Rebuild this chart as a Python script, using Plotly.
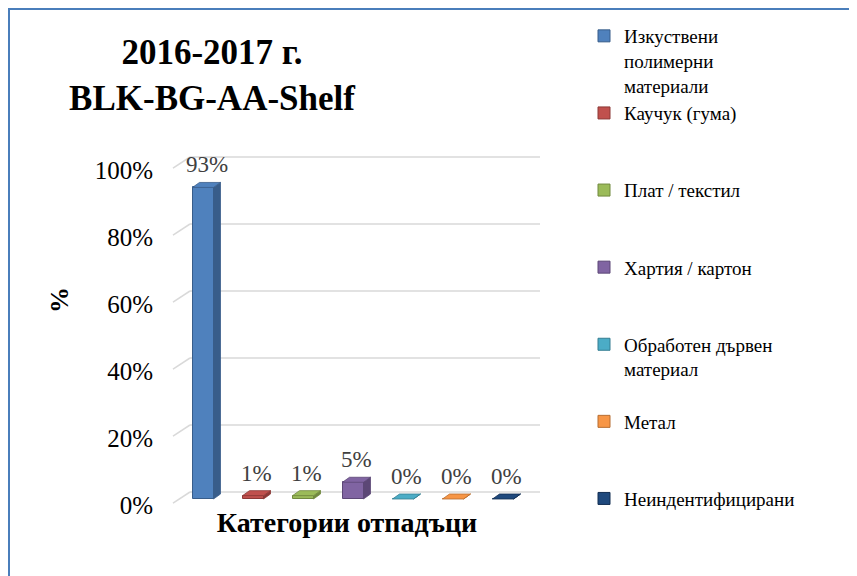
import plotly.graph_objects as go

# ---------------- data ----------------
categories = ["Изкуствени полимерни материали", "Каучук (гума)", "Плат / текстил",
              "Хартия / картон", "Обработен дървен материал", "Метал", "Неиндентифицирани"]
legend_lines = [["Изкуствени", "полимерни", "материали"], ["Каучук (гума)"], ["Плат / текстил"],
                ["Хартия / картон"], ["Обработен дървен", "материал"], ["Метал"],
                ["Неиндентифицирани"]]
values = [93, 1, 1, 5, 0, 0, 0]
y_ticks = [0, 20, 40, 60, 80, 100]
y_tick_labels = ["0%", "20%", "40%", "60%", "80%", "100%"]
title_lines = ["2016-2017 г.", "BLK-BG-AA-Shelf"]
x_title = "Категории отпадъци"
y_title = "%"

# ---------------- style ----------------
colors = ["#4F81BD", "#C0504D", "#9BBB59", "#8064A2", "#4BACC6", "#F79646", "#1F497D"]
side_colors = ["#385D8A", "#8C3836", "#71893F", "#5C4776", "#357D91", "#B66D31", "#132E52"]
SERIF = "Liberation Serif"

W, H = 857, 576
OFF = 8                                   # page body margin of the html page
# plot area, in page pixels
L, R, T, B = 154, 540, 150, 505
X_RANGE = [-0.98, 6.74]
Y0_PX, Y100_PX = 499, 164
u = 100.0 / (Y0_PX - Y100_PX)
Y_RANGE = [-(B - Y0_PX) * u, 100 + (Y100_PX - T) * u]
BAR_W = 0.42
HW = BAR_W / 2
DX = 0.14            # 3-D depth, category units
DY = 5 * u           # 3-D depth, value units
DY_BACK = 7 * u      # back wall offset
GRID_X0_PX, DIAG_X0_PX = 190, 173


def pxx(px):
    return (px - L) / (R - L)


def pxy(py):
    return (B - py) / (B - T)


fig = go.Figure()

n_lines = max(len(l) for l in legend_lines)
for i, (cat, v) in enumerate(zip(categories, values)):
    pad = (n_lines - len(legend_lines[i])) if i < len(values) - 1 else 0
    lines = legend_lines[i] + ["\u00a0"] * pad
    fig.add_trace(go.Bar(
        x=[i], y=[v], width=BAR_W, name="<br>".join(lines),
        marker=dict(color=colors[i], line=dict(color=side_colors[i], width=1)),
        hovertext=[cat], hoverinfo="text+y",
    ))

for i, v in enumerate(values):
    c = i
    # side face
    fig.add_trace(go.Scatter(
        x=[c + HW, c + HW + DX, c + HW + DX, c + HW, c + HW],
        y=[0, DY, v + DY, v, 0],
        fill="toself", fillcolor=side_colors[i], mode="lines",
        line=dict(color=side_colors[i], width=0.8), showlegend=False, hoverinfo="skip"))
    # top face
    fig.add_trace(go.Scatter(
        x=[c - HW, c + HW, c + HW + DX, c - HW + DX, c - HW],
        y=[v, v, v + DY, v + DY, v],
        fill="toself", fillcolor=colors[i], mode="lines",
        line=dict(color=side_colors[i], width=0.8), showlegend=False, hoverinfo="skip"))

annotations = []
for i, v in enumerate(values):
    annotations.append(dict(
        x=i + DX / 2, y=v + DY, xref="x", yref="y", text=f"{v}%", showarrow=False,
        yanchor="bottom", yshift=3, font=dict(family=SERIF, size=23, color="#404040")))
# y-axis title
annotations.append(dict(x=pxx(59), y=pxy(300), xref="paper", yref="paper", text=y_title,
                        textangle=-90, showarrow=False, xanchor="center", yanchor="middle",
                        font=dict(family=SERIF, size=26, color="black", weight="bold")))

shapes = []
for t in y_ticks:
    shapes.append(dict(type="line", xref="paper", yref="y", layer="below",
                       x0=pxx(GRID_X0_PX), x1=1, y0=t + DY_BACK, y1=t + DY_BACK,
                       line=dict(color="#D9D9D9", width=1.5)))
    shapes.append(dict(type="line", xref="paper", yref="y", layer="below",
                       x0=pxx(DIAG_X0_PX), x1=pxx(GRID_X0_PX), y0=t - 1.2, y1=t + DY_BACK,
                       line=dict(color="#D9D9D9", width=1.5)))
# chart frame (left and top edges visible)
shapes.append(dict(type="rect", xref="paper", yref="paper",
                   x0=pxx(OFF + 1), x1=pxx(960), y0=pxy(660), y1=pxy(OFF + 1),
                   line=dict(color="#4A7EBB", width=2), fillcolor="rgba(0,0,0,0)"))

fig.update_layout(
    width=W, height=H, autosize=False,
    margin=dict(l=L - OFF, r=W - (R - OFF), t=T - OFF, b=H - (B - OFF), pad=0,
                autoexpand=False),
    paper_bgcolor="white", plot_bgcolor="white",
    barmode="overlay", bargap=0,
    title=dict(text="<br>".join(title_lines), x=(212 - OFF) / W, xanchor="center",
               xref="container", y=1 - 56 / H, yanchor="top", yref="container",
               font=dict(family=SERIF, size=35, color="black", weight="bold")),
    xaxis=dict(range=X_RANGE, showticklabels=False, showgrid=False, zeroline=False,
               showline=False, ticks="", fixedrange=True, automargin=False,
               title=dict(text=x_title, standoff=7,
                          font=dict(family=SERIF, size=28, color="black", weight="bold"))),
    yaxis=dict(range=Y_RANGE, tickvals=y_ticks, ticktext=y_tick_labels, showgrid=False,
               zeroline=False, showline=False, ticks="", ticklabelshift=6,
               ticklabelstandoff=0, automargin=False, fixedrange=True,
               tickfont=dict(family=SERIF, size=25, color="black")),
    legend=dict(x=pxx(584), y=pxy(17), xanchor="left", yanchor="top", valign="top",
                font=dict(family=SERIF, size=19, color="black"), bgcolor="rgba(0,0,0,0)",
                tracegroupgap=0),
    annotations=annotations, shapes=shapes,
)
try:
    fig.update_layout(legend_maxheight=560)
except Exception:
    pass

fig.write_html("out.html")
